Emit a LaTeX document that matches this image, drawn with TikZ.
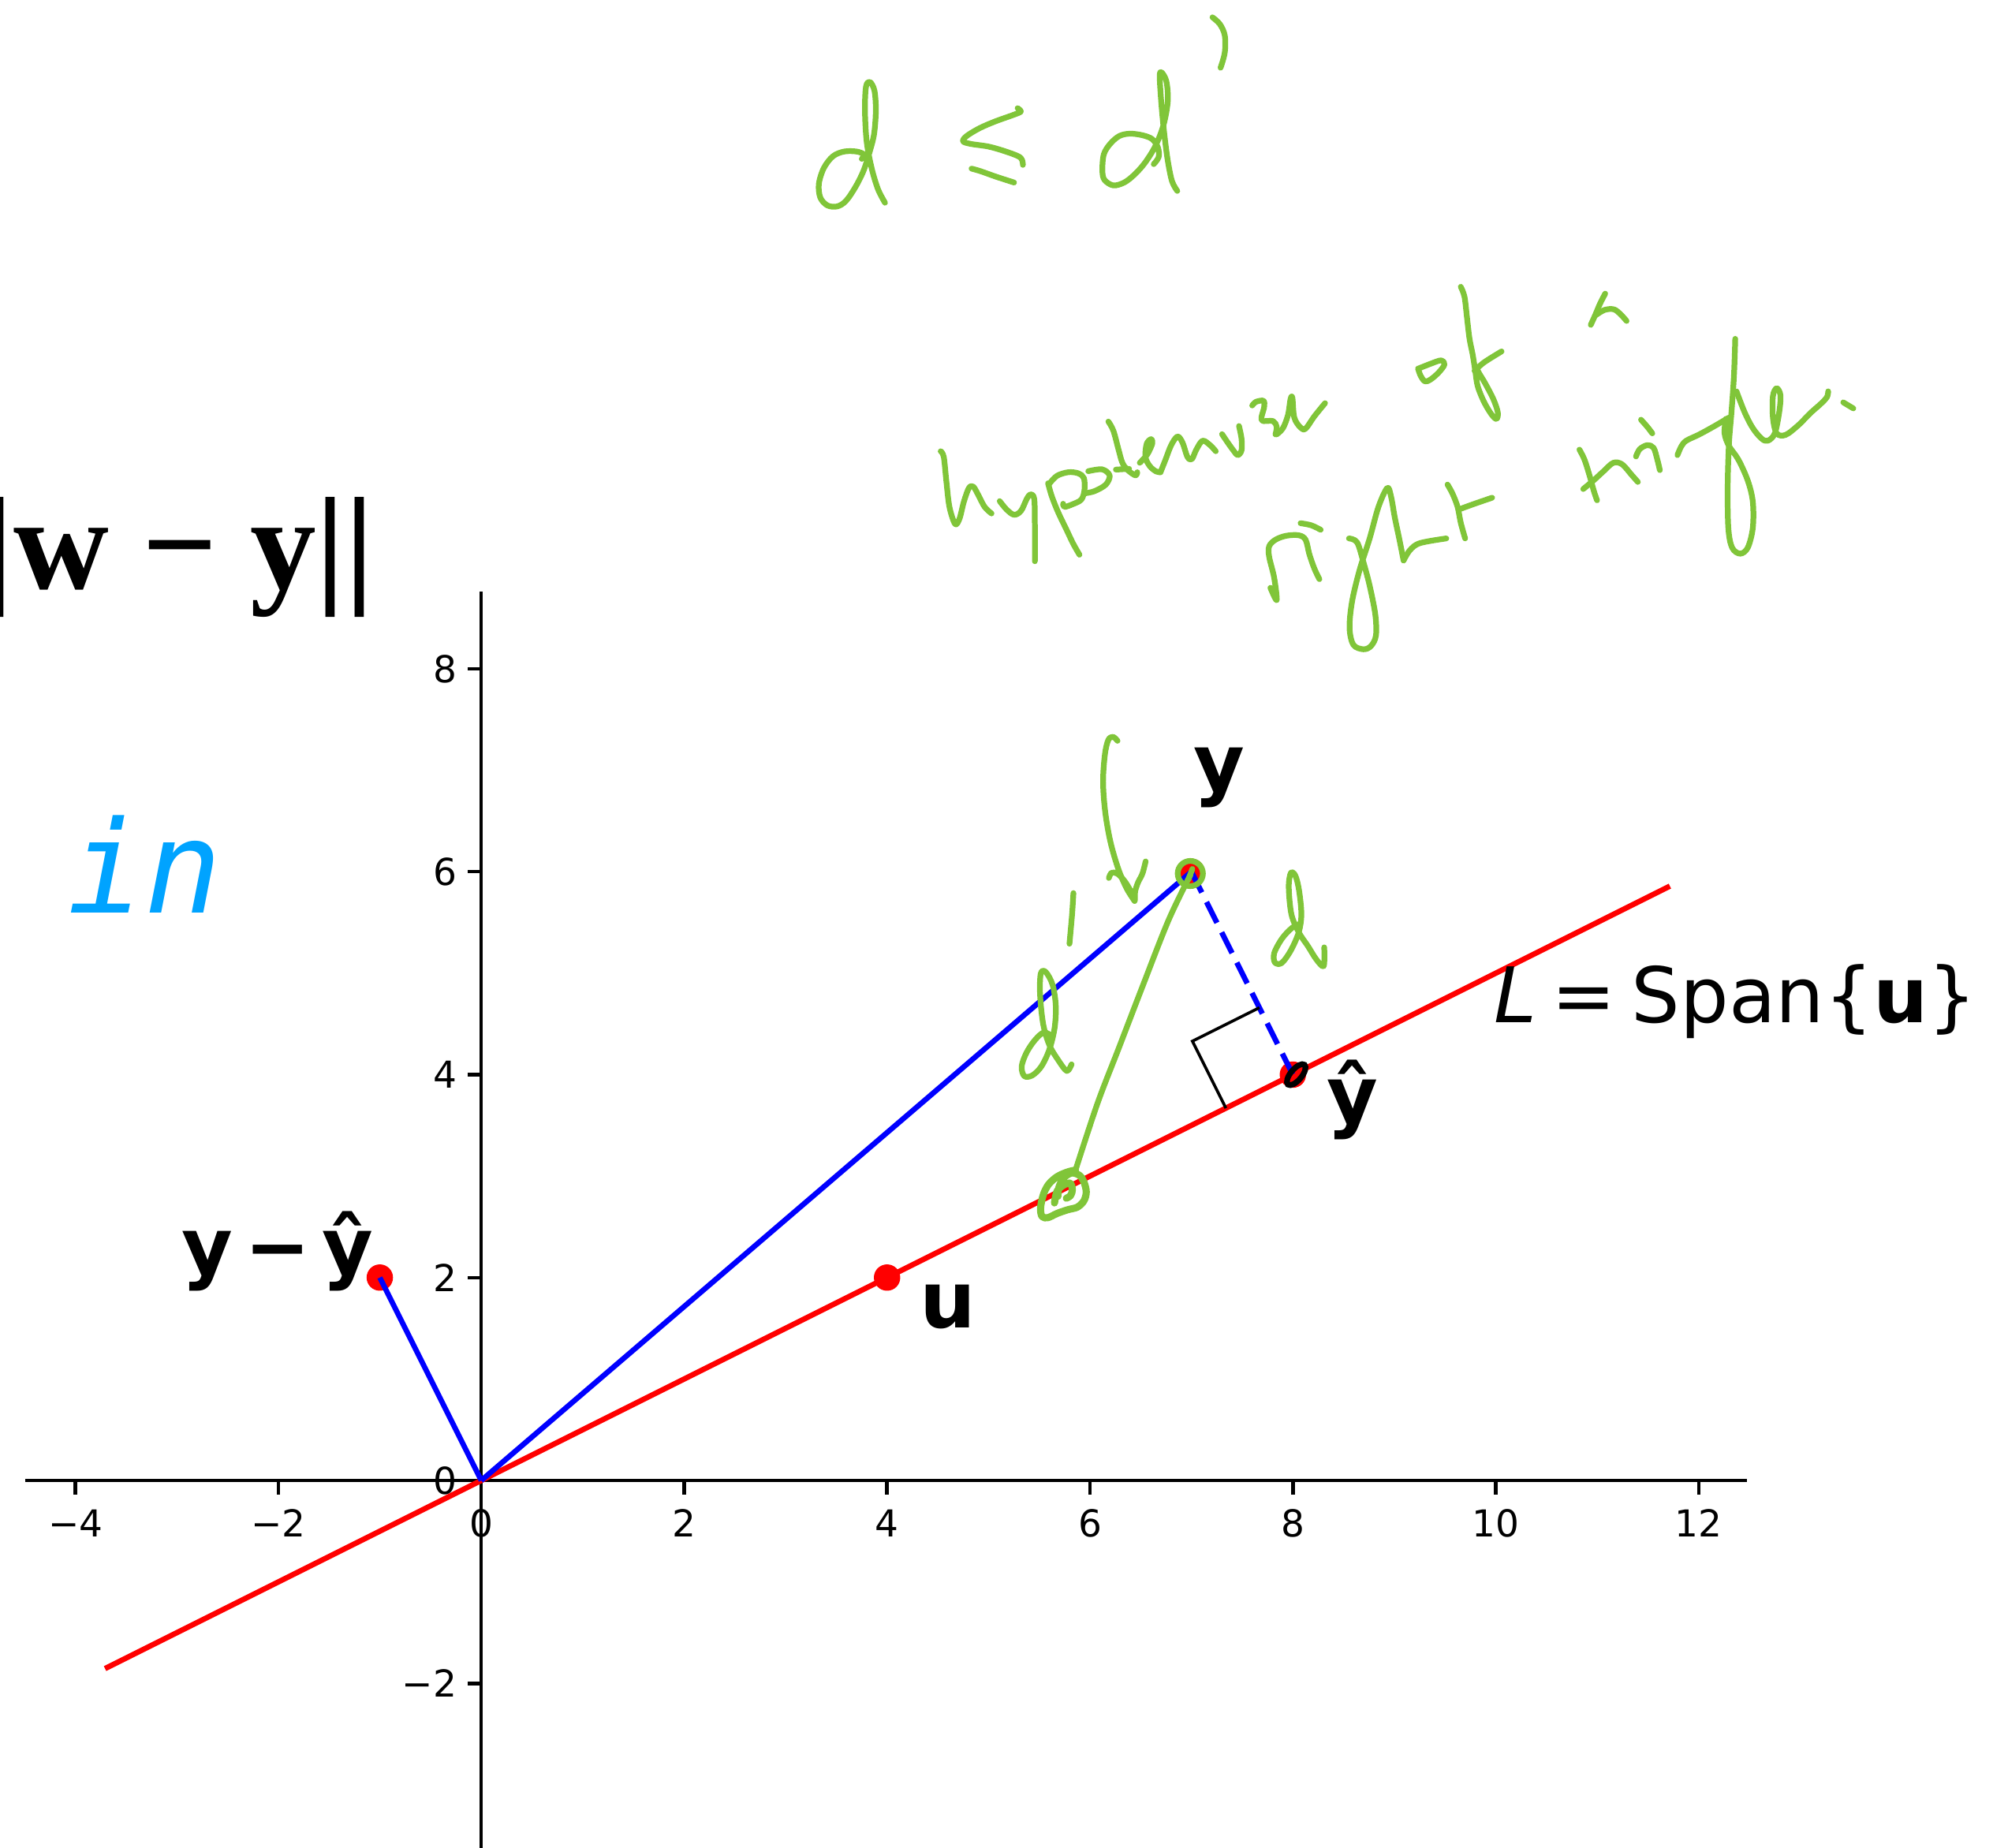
\documentclass[tikz,border=0pt]{standalone}
\usepackage{fontspec}
\setmainfont{DejaVu Sans}
\newfontfamily\timesf{Liberation Serif}
\newfontfamily\monof{DejaVu Sans Mono}
\usetikzlibrary{calc}
\definecolor{hand}{RGB}{128,197,57}
\definecolor{inblue}{RGB}{0,163,255}
\begin{document}
\begin{tikzpicture}[
  hand/.style={draw=hand, line width=1.6pt, line cap=round, line join=round},
  axisline/.style={draw=black, line width=1pt},
  tickl/.style={font=\fontsize{10.4}{12}\selectfont, inner sep=0},
  lab/.style={font=\bfseries\fontsize{22}{26}\selectfont, inner sep=0},
  labreg/.style={font=\fontsize{21.5}{26}\selectfont, inner sep=0},
  dot/.style={fill=red, draw=none, circle, minimum size=0.26cm, inner sep=0},
  vec/.style={draw=blue, line width=1.5pt},
  spanline/.style={draw=red, line width=1.5pt},
  hs/.style={smooth, tension=0.55}
]
\useasboundingbox (-4.7438,-3.6149) rectangle (15.0493,14.5923);

% axes
\coordinate (O) at (0,0);
\coordinate (xl) at (-4.495,0);
\coordinate (xr) at (12.476,0);
\coordinate (yb) at (0,-3.7);
\coordinate (yt) at (0,8.76);
\draw[axisline] (xl) -- (xr);
\draw[axisline] (yb) -- (yt);
\foreach \x/\t in {-4/−4,-2/−2,0/0,2/2,4/4,6/6,8/8,10/10,12/12}{
  \draw[axisline] (\x,0) -- (\x,-0.137);
  \node[tickl, anchor=base] (xt\x) at (\x,-0.552) {\t};
}
\foreach \y/\t in {-2/−2,0/0,2/2,4/4,6/6,8/8}{
  \draw[axisline] (0,\y) -- (-0.137,\y);
  \node[tickl, anchor=east] (yt\y) at (-0.235,\y) {\t};
}

% span line
\coordinate (Ls) at (-3.708,-1.854);
\coordinate (Le) at (11.716,5.858);
\draw[spanline] (Ls) -- (Le);

% points
\node[dot] (Y) at (7,6) {};
\node[dot] (Yh) at (8,4) {};
\node[dot] (U) at (4,2) {};
\node[dot] (D) at (-1,2) {};

% vectors
\draw[vec] (O) -- (Y.center);
\draw[vec] (O) -- (D.center);
\draw[vec, dash pattern=on 6.5pt off 3pt] (Y.center) -- (Yh.center);

% right angle marker
\coordinate (ra1) at (7.340,3.670);
\coordinate (ra2) at (7.010,4.330);
\coordinate (ra3) at (7.670,4.660);
\draw[black, line width=0.8pt] (ra1) -- (ra2) -- (ra3);

% labels
\node[lab] (ylab) at (7.275,6.925) {y};
\node[lab] (yhlab) at (8.59,3.75) {ŷ};
\node[lab] (ulab) at (4.60,1.71) {u};
\node[lab] (dlab) at (-2.007,2.26) {y\hspace{0.15em}−\hspace{0.15em}ŷ};
\node[labreg] (Llab) at (12.36,4.72) {\textit{L}\hspace{0.2em}=\hspace{0.2em}Span\{\textbf{u}\}};

% top-left texts
\node[anchor=base east, inner sep=0, font=\timesf\bfseries\fontsize{37}{40}\selectfont] (norm) at (-1.045,8.785) {||w − y||};
\node[anchor=base west, inner sep=0, text=inblue, font=\monof\itshape\fontsize{36}{40}\selectfont] (intext) at (-4.085,5.597) {in};

% handwritten annotations in pixel coordinates
\begin{scope}[shift={(-4.7438,14.5923)}, x=0.0077742cm, y=-0.0077742cm]
  % d <= d'
  \begin{scope}[shift={(1000,0)}, xscale=0.44643, yscale=0.33333]
    \draw[hand] plot[hs] coordinates {(210,605) (216,588) (195,577) (160,577) (128,595) (102,640) (88,700) (92,752) (112,782) (140,786) (165,765) (192,712) (215,650) (232,580) (245,510) (250,420) (246,345) (233,312) (222,330) (219,420) (224,540) (238,640) (256,720) (276,772)};
    \draw[hand] plot[hs] coordinates {(653,412) (662,425) (640,438) (590,462) (545,488) (508,518) (498,538) (520,548) (570,558) (615,575) (655,595) (666,610) (668,628)};
    \draw[hand] plot[hs] coordinates {(522,642) (548,652) (590,672) (643,695)};
    \draw[hand] plot[hs] coordinates {(1040,625) (1054,598) (1052,562) (1036,530) (1008,515) (972,509) (942,518) (916,548) (898,588) (894,650) (900,685) (925,706) (956,695) (985,665) (1015,620) (1045,555) (1068,475) (1080,385) (1076,310) (1062,275) (1057,292) (1062,400) (1070,510) (1080,612) (1092,690) (1107,727)};
    \draw[hand] plot[hs] coordinates {(1207,66) (1228,92) (1242,135) (1242,200) (1230,258)};
  \end{scope}
  % hypotenuse of a right triangle.
  \begin{scope}[shift={(1150,350)}, xscale=0.79719, yscale=0.33333]
    \draw[hand] plot[hs] coordinates {(55,668) (60,690) (64,780) (69,880) (78,945) (85,925) (92,860) (100,808) (107,803) (115,835) (125,880) (136,905)};
    \draw[hand] plot[hs] coordinates {(149,858) (160,890) (172,910) (183,895) (192,850) (198,832) (204,850) (205,950) (205,1087)};
    \draw[hand] plot[hs] coordinates {(226,790) (232,840) (242,900) (255,965) (266,1020) (276,1062)};
    \draw[hand] plot[hs] coordinates {(228,792) (240,762) (258,748) (274,752) (283,770) (284,815) (279,852) (265,870) (252,880) (250,868)};
    \draw[hand] plot[hs] coordinates {(290,744) (312,737) (324,760) (318,795) (300,820) (285,828)};
    \draw[hand] plot[hs] coordinates {(322,555) (330,590) (338,660) (344,710) (352,738) (365,760) (368,748)};
    \draw[hand] plot[hs] coordinates {(334,738) (355,735)};
    \draw[hand] plot[hs] coordinates {(372,712) (384,680) (392,638) (390,622) (383,640) (381,690) (388,725) (398,745) (405,748)};
    \draw[hand] plot[hs] coordinates {(405,748) (413,700) (422,645) (432,612) (440,635) (448,690) (455,698) (462,662) (472,628) (484,645) (493,668)};
    \draw[hand] plot[hs] coordinates {(503,603) (512,635) (522,668) (528,683) (534,665) (534,620) (530,572)};
    \draw[hand] plot[hs] coordinates {(551,494) (557,480) (569,476) (570,500) (566,550) (584,553) (590,575) (588,604)};
    \draw[hand] plot[hs] coordinates {(590,604) (600,580) (608,530) (612,470) (615,465) (618,540) (628,578) (636,582) (650,535) (667,485)};
    \draw[hand] plot[hs] coordinates {(817,352) (835,335) (852,322) (857,338) (848,368) (835,395) (826,402) (819,380) (815,353)};
    \draw[hand] plot[hs] coordinates {(883,42) (889,80) (893,160) (897,240) (902,300) (906,360) (910,420) (920,480) (932,528) (940,545) (942,520) (935,470) (922,410) (912,370) (907,345)};
    \draw[hand] plot[hs] coordinates {(905,362) (920,330) (948,288)};
    \draw[hand] plot[hs] coordinates {(1090,187) (1097,150) (1105,105) (1113,68)};
    \draw[hand] plot[hs] coordinates {(1098,150) (1112,130) (1127,128) (1138,148) (1147,172)};
    \draw[hand] plot[hs] coordinates {(580,1188) (590,1235) (586,1150) (578,1070) (578,1030) (588,1005) (605,990) (625,988) (636,1005) (642,1060) (650,1115) (658,1155)};
    \draw[hand] plot[hs] coordinates {(628,942) (645,950) (660,967)};
    \draw[hand] plot[hs] coordinates {(705,1000) (718,1015) (728,1090) (738,1180) (747,1290) (748,1370) (740,1410) (728,1422) (712,1405) (706,1340) (710,1240) (722,1120) (738,1000) (752,880) (766,808) (772,840) (778,920) (785,1000) (792,1084)};
    \draw[hand] plot[hs] coordinates {(792,1084) (802,1045) (818,1018) (860,1000)};
    \draw[hand] plot[hs] coordinates {(862,795) (870,830) (878,880) (883,940) (890,1000)};
    \draw[hand] plot[hs] coordinates {(882,888) (905,868) (933,845)};
    \draw[hand] plot[hs] coordinates {(1072,662) (1080,700) (1088,760) (1095,820) (1100,855)};
    \draw[hand] plot[hs] coordinates {(1078,812) (1095,778) (1110,745) (1126,712) (1140,718) (1155,758) (1165,785)};
    \draw[hand] plot[hs] coordinates {(1162,688) (1168,660) (1180,645) (1190,655) (1196,700) (1200,740)};
    \draw[hand] plot[hs] coordinates {(1170,548) (1180,575) (1188,600)};
    \draw[hand] plot[hs] coordinates {(1228,683) (1234,650) (1242,628) (1262,605) (1285,575) (1310,540)};
    \draw[hand] plot[hs] coordinates {(1320,240) (1318,380) (1314,520) (1310,640) (1308,800) (1309,960) (1315,1035) (1328,1058) (1340,1035) (1348,960) (1348,860) (1340,780) (1325,700) (1310,648) (1303,600) (1305,545)};
    \draw[hand] plot[hs] coordinates {(1322,440) (1335,520) (1348,580) (1362,620) (1372,628) (1383,600) (1390,520) (1392,455) (1386,428) (1380,458) (1380,540) (1386,600) (1400,606) (1420,570) (1440,522) (1456,488) (1466,462) (1468,440)};
    \draw[hand] plot[hs] coordinates {(1492,482) (1508,505)};
  \end{scope}
  % arrow, d', d near the plot
  \begin{scope}[shift={(1250,900)}, xscale=0.33333, yscale=0.38265]
    \draw[hand] plot[hs] coordinates {(505,105) (488,92) (470,102) (457,150) (450,240) (458,340) (478,440) (508,530) (540,595) (570,636)};
    \draw[hand] plot[hs] coordinates {(472,560) (482,543) (503,545) (530,568) (555,603) (570,636) (572,605) (583,575) (600,545) (612,505)};
    \draw[hand] plot[hs] coordinates {(337,610) (332,680) (322,778)};
    \draw[hand] plot[hs] coordinates {(255,1085) (225,1072) (190,1098) (158,1140) (140,1185) (150,1217) (180,1215) (215,1185) (245,1130) (265,1060) (270,985) (258,915) (232,872) (213,876) (210,945) (222,1045) (246,1115) (280,1165) (312,1200) (330,1178)};
    \draw[hand] plot[hs] coordinates {(1200,712) (1170,725) (1132,760) (1102,808) (1104,840) (1130,842) (1165,800) (1195,740) (1205,680) (1196,600) (1182,552) (1165,543) (1157,590) (1167,680) (1195,740) (1230,786) (1262,830) (1290,852) (1292,790)};
  \end{scope}
  % circle at y and line to the loop on L
  \draw[hand] (1510.7,1108.6) circle[radius=16];
  \draw[hand] (1513.3,1102.8) -- (1508.3,1116.2);
  \draw[hand] plot[hs] coordinates {(1511,1110) (1483,1168) (1450,1252) (1420,1330) (1393,1400) (1365,1485)};
  \begin{scope}[shift={(1280,1400)}, scale=0.33333]
    \draw[hand, line width=2pt] plot[hs] coordinates {(255,255) (225,262) (185,280) (152,310) (132,350) (122,400) (128,432) (150,436) (185,420) (225,406) (262,396) (287,372) (296,338) (287,300) (270,275) (240,266) (210,285) (192,320) (188,355)};
    \draw[hand, line width=2pt] plot[hs] coordinates {(175,380) (185,335) (210,312) (235,305) (243,330) (236,352) (220,362)};
  \end{scope}
\end{scope}

% black scribble at y-hat
\draw[black, line width=1.6pt] ($(Yh.center)+(0.033,0)$) ellipse[x radius=0.127, y radius=0.055, rotate=50];
\end{tikzpicture}
\end{document}
